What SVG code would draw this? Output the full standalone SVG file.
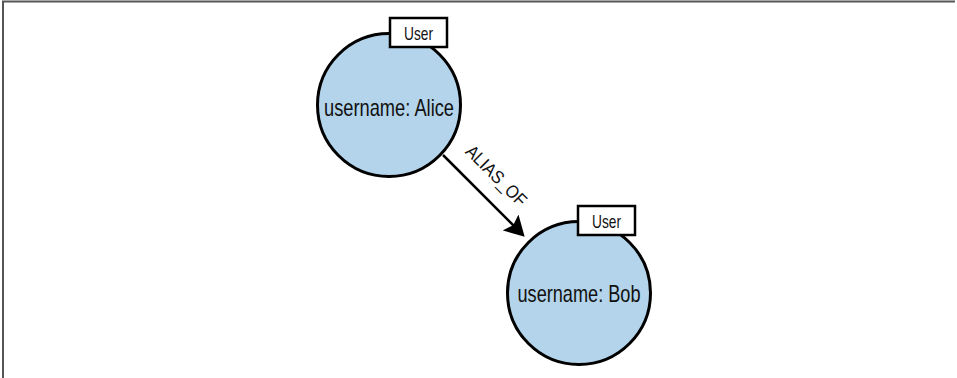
<svg xmlns="http://www.w3.org/2000/svg" width="957" height="378" viewBox="0 0 957 378">
<style>
.node{fill:#b3d4ea;stroke:#000;stroke-width:3}
.tag{fill:#fff;stroke:#000;stroke-width:2.5}
.t{font-family:"Liberation Sans",Arial,sans-serif;fill:#111}
.edge{stroke:#000;stroke-width:2.5;fill:none}
</style>
<defs>
<marker id="arr" markerWidth="9" markerHeight="9" refX="6.5" refY="4.5" orient="auto" markerUnits="strokeWidth">
<path d="M0,0 L8,4.5 L0,9 L1.5,4.5 Z" fill="#000"/>
</marker>
</defs>
<rect x="0" y="0" width="957" height="378" fill="#fff"/>
<path d="M3,378 V1.5 H955" stroke="#555" stroke-width="2" fill="none"/>
<g id="connectors">
<line class="edge" x1="443" y1="155" x2="522" y2="234" marker-end="url(#arr)"/>
<text class="t" font-size="18" transform="translate(492,180) rotate(45)" text-anchor="middle" textLength="78" lengthAdjust="spacingAndGlyphs" x="0" y="0">ALIAS_OF</text>
</g>
<g id="alice">
<circle class="node" cx="389" cy="105" r="71.5"/>
<rect class="tag" x="390" y="18" width="57" height="29"/>
<text class="t" x="418.5" y="40" font-size="19" text-anchor="middle" textLength="29" lengthAdjust="spacingAndGlyphs">User</text>
<text class="t" x="389" y="116" font-size="24" text-anchor="middle" textLength="130" lengthAdjust="spacingAndGlyphs">username: Alice</text>
</g>
<g id="bob">
<circle class="node" cx="579" cy="293" r="71.5"/>
<rect class="tag" x="578" y="206" width="57" height="29"/>
<text class="t" x="606.5" y="228" font-size="19" text-anchor="middle" textLength="29" lengthAdjust="spacingAndGlyphs">User</text>
<text class="t" x="579" y="302" font-size="24" text-anchor="middle" textLength="123" lengthAdjust="spacingAndGlyphs">username: Bob</text>
</g>
</svg>
